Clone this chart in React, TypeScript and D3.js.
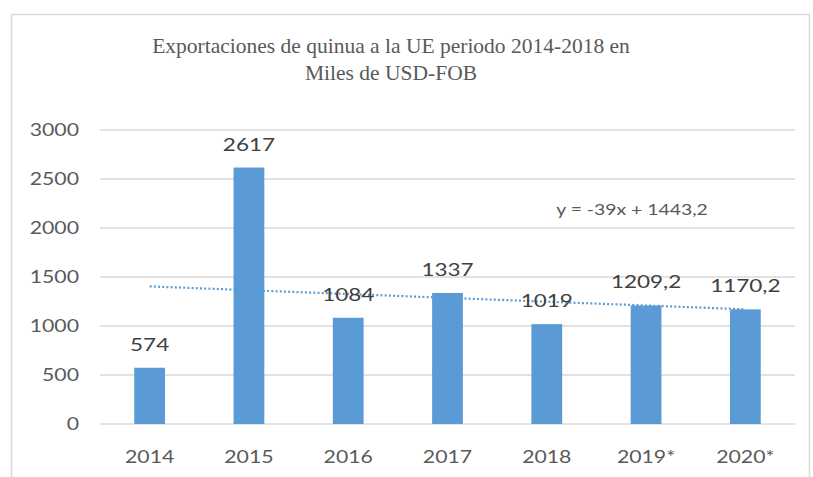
import React from 'react';
import * as d3 from 'd3';

const years = ['2014', '2015', '2016', '2017', '2018', '2019*', '2020*'];
const exportsValues = [574, 2617, 1084, 1337, 1019, 1209.2, 1170.2];
const valueLabels = ['574', '2617', '1084', '1337', '1019', '1209,2', '1170,2'];
const yTicks = [0, 500, 1000, 1500, 2000, 2500, 3000];
const trendSlope = -39;
const trendIntercept = 1443.2;
const trendLabel = 'y = -39x + 1443,2';
const titleLines = ['Exportaciones de quinua a la UE periodo 2014-2018 en', 'Miles de USD-FOB'];

const width = 813;
const height = 477;
const margin = { top: 130, right: 18, bottom: 53, left: 100 };

const labelFont = 'Lato, "Open Sans", sans-serif';

// the source picture is a bit wider than tall, so the sans labels are stretched
function WideText({ x, y, anchor = 'middle', size = 17, fill = '#595959', dy = null, children }) {
    return (
        <text
            transform={`translate(${x},${y}) scale(1.25,1)`}
            dy={dy}
            textAnchor={anchor}
            fontFamily={labelFont}
            fontSize={size}
            fill={fill}
        >
            {children}
        </text>
    );
}

function App() {
    const x = d3
        .scaleBand()
        .domain(years)
        .range([margin.left, width - margin.right])
        .paddingInner(0.69)
        .paddingOuter(0.345);

    const y = d3
        .scaleLinear()
        .domain([0, 3000])
        .range([height - margin.bottom, margin.top]);

    const center = (d) => x(d) + x.bandwidth() / 2;

    // linear trend over category index 1..n
    const trendPoints = years.map((d, i) => [center(d), y(trendSlope * (i + 1) + trendIntercept)]);
    const trendPath = d3.line()(trendPoints);

    return (
        <svg
            width={width}
            height={height}
            style={{ position: 'absolute', left: 0, top: 0, background: '#ffffff' }}
        >
            <rect x={11.5} y={14.5} width={798} height={480} fill="#ffffff" stroke="#d9d9d9" strokeWidth={1.5} />

            {/* Title */}
            {titleLines.map((t, i) => (
                <text
                    key={t}
                    x={391}
                    y={53 + i * 27}
                    textAnchor="middle"
                    fontFamily='"Liberation Serif", "Times New Roman", serif'
                    fontSize={21.5}
                    fill="#595959"
                >
                    {t}
                </text>
            ))}

            {/* Gridlines and y labels */}
            {yTicks.map((t) => (
                <g key={t}>
                    <line
                        x1={margin.left}
                        x2={width - margin.right}
                        y1={y(t)}
                        y2={y(t)}
                        stroke="#d9d9d9"
                        strokeWidth={1.5}
                    />
                    <WideText x={79} y={y(t)} dy="0.35em" anchor="end">
                        {t}
                    </WideText>
                </g>
            ))}

            {/* Bars */}
            {years.map((d, i) => (
                <rect
                    key={d}
                    x={x(d)}
                    y={y(exportsValues[i])}
                    width={x.bandwidth()}
                    height={y(0) - y(exportsValues[i])}
                    fill="#5b9bd5"
                />
            ))}

            {/* Trendline */}
            <path
                d={trendPath}
                fill="none"
                stroke="#5b9bd5"
                strokeWidth={2.2}
                strokeDasharray="2 2.2"
            />

            {/* Data labels */}
            {years.map((d, i) => (
                <WideText key={d} x={center(d)} y={y(exportsValues[i]) - 17} size={18} fill="#404040">
                    {valueLabels[i]}
                </WideText>
            ))}

            {/* X labels */}
            {years.map((d) => (
                <WideText key={d} x={center(d)} y={463}>
                    {d}
                </WideText>
            ))}

            {/* Trend equation */}
            <WideText x={632} y={215} size={15.5}>
                {trendLabel}
            </WideText>
        </svg>
    );
}

export default App;
